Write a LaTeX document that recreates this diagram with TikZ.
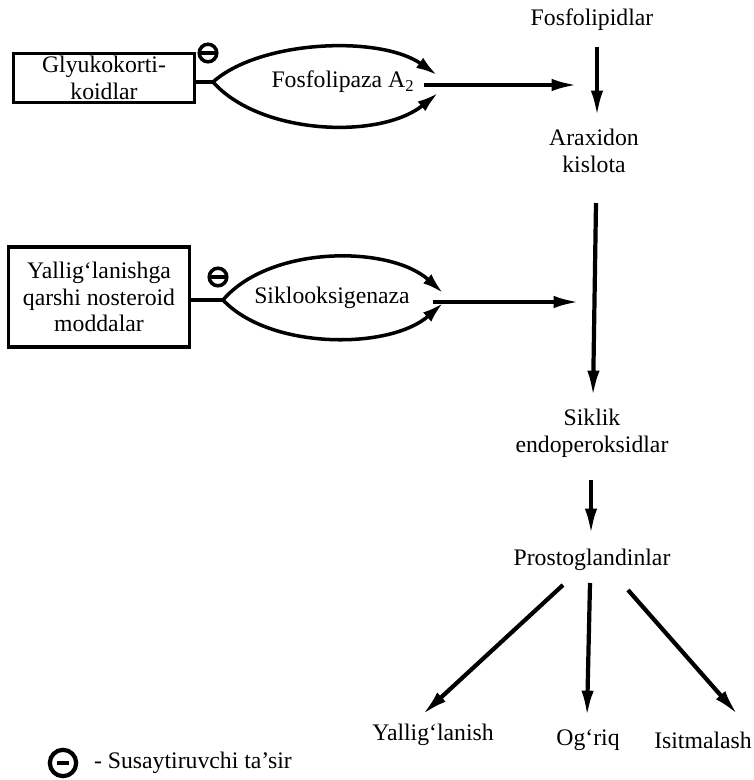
\documentclass[tikz,border=0pt]{standalone}
\usepackage{fontspec}
\setmainfont{Liberation Serif}
\usetikzlibrary{arrows.meta,calc}

\begin{document}
\begin{tikzpicture}[x=0.02cm,y=-0.02cm,
  every node/.style={font=\fontsize{13.5}{15.3}\selectfont,align=center,inner sep=1pt},
  arr/.style={line width=2.4pt,-{Latex[length=15pt,width=7pt]}},
  lens/.style={line width=2pt,-{Latex[length=12pt,width=7pt]}},
  drugbox/.style={draw,line width=1.8pt,minimum width=103pt},
  minus/.style={circle,draw,line width=2pt,minimum size=10pt,inner sep=0pt,
    path picture={\draw[line width=2pt] (path picture bounding box.west) -- (path picture bounding box.east);}},
  legminus/.style={circle,draw,line width=2.4pt,minimum size=15pt,inner sep=0pt,
    path picture={\draw[line width=2.4pt] ([xshift=-3.5pt]path picture bounding box.center) -- ([xshift=3.5pt]path picture bounding box.center);}}]
\useasboundingbox (0,0) rectangle (753,780);

% main chain
\node (fosf) at (592,20) {Fosfolipidlar};
\node (arax) at (594,151) {Araxidon\\kislota};
\node (siklik) at (592,433) {Siklik\\endoperoksidlar};
\node (prost) at (592,560) {Prostoglandinlar};
\node (yal) at (433,735) {Yallig‘lanish};
\node (ogriq) at (588,740) {Og‘riq};
\node (isit) at (703,740) {Isitmalash};

\draw[arr] ($(fosf)+(5,27)$) -- ($(arax)+(3,-34)$);
\draw[arr] ($(arax)+(2,52)$) -- ($(siklik)+(1,-36)$);
\draw[arr] ($(siklik)+(-1,47)$) -- ($(prost)+(-1,-25)$);
\draw[arr] ($(prost)+(-29,25)$) -- ($(yal)+(-11,-20)$);
\draw[arr] ($(prost)+(-2,23)$) -- ($(ogriq)+(-1,-23)$);
\draw[arr] ($(prost)+(36,30)$) -- ($(isit)+(35,-25)$);

% inhibitors
\node[drugbox,minimum height=28pt] (glyu) at (104,78) {Glyukokorti-\\koidlar};
\node[drugbox,minimum height=57pt] (nsaid) at (99,297) {Yallig‘lanishga\\qarshi nosteroid\\moddalar};
\node[minus] (m1) at (208,53) {};
\node[minus] (m2) at (218,277) {};

% enzymes
\node (pla2) at (343,82) {Fosfolipaza A\textsubscript{2}};
\node (cox) at (332,298) {Siklooksigenaza};
\coordinate (tip1) at (213,82);
\coordinate (tip2) at (223,300);
\coordinate (in1) at (578,85);
\coordinate (in2) at (580,302);

\draw[line width=2.2pt] (glyu.east |- tip1) -- (tip1);
\draw[lens] (tip1) .. controls (260,40) and (380,35) .. (437,75);
\draw[lens] (tip1) .. controls (260,135) and (380,140) .. (438,93);
\draw[arr,shorten <=4pt] (pla2.east |- in1) -- (in1);

\draw[line width=2.2pt] (nsaid.east |- tip2) -- (tip2);
\draw[lens] (tip2) .. controls (270,245) and (390,245) .. (443,293);
\draw[lens] (tip2) .. controls (270,350) and (390,350) .. (443,303);
\draw[arr,shorten <=12pt] (cox.east |- in2) -- (in2);

% legend
\node[legminus] (leg) at (63,763) {};
\node[anchor=west] (legtxt) at (92,763) {- Susaytiruvchi ta’sir};
\end{tikzpicture}
\end{document}
